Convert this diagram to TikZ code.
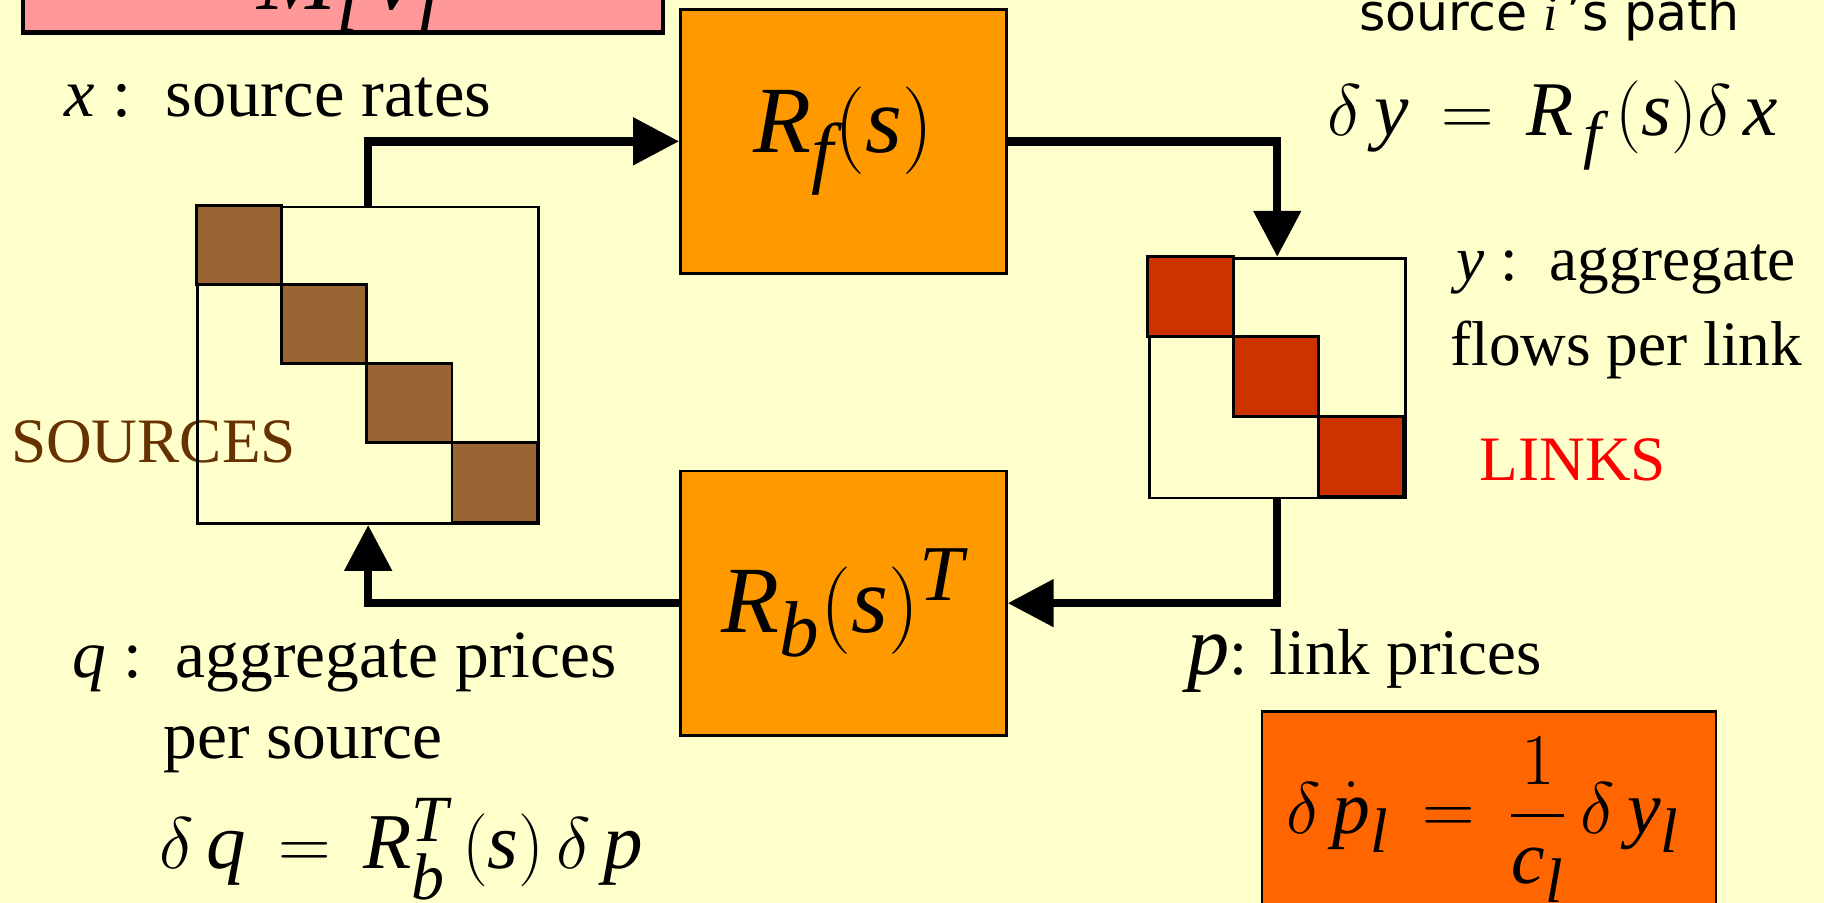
\documentclass[tikz,border=0pt]{standalone}
\usepackage{fontspec}
\setmainfont{Liberation Serif}
\newfontfamily\pathfont{DejaVu Sans}
\usepackage{amsmath}
\usepackage[italic]{mathastext}
\usetikzlibrary{arrows.meta,positioning,calc}
\definecolor{slideBg}{HTML}{FFFFCC}
\definecolor{blkOrange}{HTML}{FF9900}
\definecolor{blkPink}{HTML}{FF9999}
\definecolor{blkRed}{HTML}{FF6600}
\definecolor{srcBrown}{HTML}{996633}
\definecolor{srcText}{HTML}{663300}
\definecolor{lnkRed}{HTML}{CC3300}
\tikzset{
  block/.style={draw=black, line width=0.8pt, fill=#1, minimum width=3.257cm, minimum height=2.641cm, font=\fontsize{27}{30}\selectfont},
  matbox/.style={draw=black, line width=0.8pt, inner sep=0pt},
  cellbox/.style={draw=black, line width=0.8pt, fill=#1},
  loopArr/.style={-{Triangle[length=4.6mm,width=4.6mm]}, line width=2.4pt},
  txt/.style={font=\fontsize{19.5}{20}\selectfont, inner sep=0pt},
}
\begin{document}
\begin{tikzpicture}[x=0.011633cm, y=-0.011633cm]
\useasboundingbox[fill=slideBg] (0,0) rectangle (1568,776);

% caja superior (cortada)
\node[draw=black, line width=1.2pt, fill=blkPink, minimum width=6.398cm, minimum height=0.93cm, inner sep=0pt] (topbox) at (295,-12) {};
\node[anchor=base, font=\fontsize{27}{30}\selectfont, inner sep=0pt] (topeq) at (300,8) {$M_i\,v_l$};

% bloques
\node[block=blkOrange] (rf) at (725,121.5) {$R_f(s)$};
\node[block=blkOrange] (rb) at (725,518.5) {$R_b(s)^T$};

% fuentes
\node[font=\fontsize{18}{20}\selectfont, text=srcText, inner sep=0pt] (srclab) at (132,380) {SOURCES};
\node[matbox, minimum width=3.408cm, minimum height=3.164cm] (srcmat) at (316.5,314) {};
\foreach \k in {0,...,3}
  \draw[cellbox=srcBrown] ($(srcmat.north west)+(\k*73.25,\k*68)$) rectangle +(73.25,68);

% enlaces
\node[matbox, minimum width=2.559cm, minimum height=2.396cm] (lnkmat) at (1098,325) {};
\foreach \k in {0,...,2}
  \draw[cellbox=lnkRed] ($(lnkmat.north west)+(\k*73.33,\k*68.67)$) rectangle +(73.33,68.67);
\node[font=\fontsize{18}{20}\selectfont, text=red, inner sep=0pt] (lnklab) at (1352,395) {LINKS};

% lazo
\draw[loopArr] (srcmat.north) |- (rf.west);
\draw[loopArr] (rf.east) -| (lnkmat.north);
\draw[loopArr] (lnkmat.south) |- (rb.east);
\draw[loopArr] (rb.west) -| (srcmat.south);

% textos
\node[txt, anchor=base west] (xlab) at (55,100) {$x$ :\ \ source rates};
\node[anchor=base, font=\pathfont\fontsize{14.4}{17}\selectfont, inner sep=0pt] (pathlab) at (1332,26) {source {\rmfamily\itshape i}\,’s path};
\node[font=\fontsize{22}{26}\selectfont, inner sep=0pt] (fwdeq) at (1335,108) {$\delta\, y\, =\, R_{\,f}\,(s)\delta\, x$};
\node[txt, font=\fontsize{18}{20}\selectfont, align=center] (ylab) at (1398,268) {$y$ :\ \ aggregate\\[4pt]flows per link};
\node[txt, font=\fontsize{18.5}{20}\selectfont, anchor=base west] (plab) at (1020,580) {{\fontsize{24}{26}\selectfont$p$}: link prices};
\node[txt, font=\fontsize{19.2}{20}\selectfont, anchor=west, align=left] (qlab) at (62,604) {$q$ :\ \ aggregate prices\\[3pt]\hspace*{0.907cm}per source};
\node[font=\fontsize{22.5}{26}\selectfont, inner sep=0pt] (bwdeq) at (345,730) {$\delta\,q\, =\, R_b^T\,(s)\,\delta\, p$};

% caja inferior (cortada)
\node[draw=black, line width=0.8pt, fill=blkRed, minimum width=4.537cm, minimum height=2.187cm, inner sep=0pt] (pricebox) at (1280,706) {};
\node[font=\fontsize{21.5}{25}\selectfont, inner sep=0pt] (priceeq) at (1275,705) {$\delta\,\dot p_l\, =\, \dfrac{1}{c_l}\,\delta\, y_l$};
\end{tikzpicture}
\end{document}
